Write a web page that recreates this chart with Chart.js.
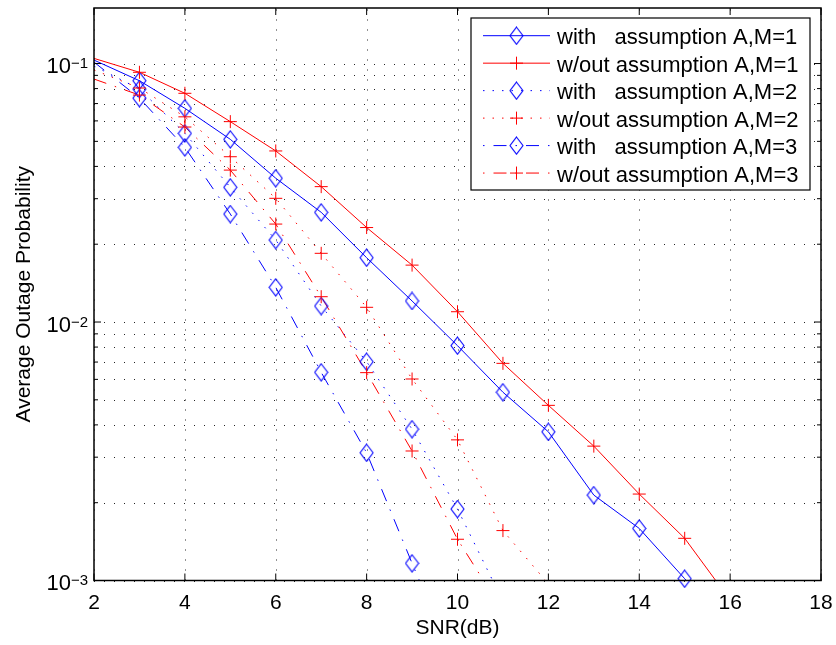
<!DOCTYPE html>
<html><head><meta charset="utf-8">
<script src="https://cdn.jsdelivr.net/npm/chart.js@4.4.1/dist/chart.umd.min.js"></script>
<style>html,body{margin:0;padding:0;background:#fff;}canvas{display:block;}</style>
</head><body>
<canvas id="c" width="836" height="645"></canvas>
<script>
// ---- data ----
const snr = [2,3,4,5,6,7,8,9,10,11,12,13,14,15,16];
const withM1    = [0.1031,0.0858,0.0671,0.0509,0.0360,0.02657,0.01773,0.01206,0.00810,0.00535,0.00376,0.00214,0.00159,0.001016,0.00065];
const withoutM1 = [0.1047,0.0925,0.0767,0.0596,0.0459,0.0334,0.0232,0.0166,0.01096,0.00692,0.00476,0.00331,0.00216,0.001456,0.00084];
const withM2    = [0.0978,0.0797,0.0537,0.0332,0.02076,0.01153,0.00702,0.00385,0.00189,0.00083];
const withoutM2 = [0.0944,0.0804,0.0622,0.0436,0.0301,0.01844,0.0114,0.00602,0.00350,0.00156,0.00097];
const withM3    = [0.1013,0.0735,0.0474,0.02617,0.01362,0.00639,0.00312,0.001166,0.00045];
const withoutM3 = [0.0871,0.0755,0.0568,0.0387,0.02393,0.01253,0.00637,0.00317,0.001444,0.00076];

const seriesLabels = ['with   assumption A,M=1','w/out assumption A,M=1','with   assumption A,M=2','w/out assumption A,M=2','with   assumption A,M=3','w/out assumption A,M=3'];
const xTicks = [2,4,6,8,10,12,14,16,18];
const yMajorTicks = [1e-3,1e-2,1e-1];
const yTickExp = ['\u22123','\u22122','\u22121'];
const xTitle = 'SNR(dB)';
const yTitle = 'Average Outage Probability';
const X_MIN = 2, X_MAX = 18, Y_MIN = 1e-3, Y_MAX = 0.164;

// ---- styles ----
const BLUE = '#0000ff', RED = '#ff0000';
const DOT = [1.5, 8];
const DASHDOT = [13, 9, 1.5, 9];
const FONT = '"Liberation Sans", Arial, Helvetica, sans-serif';

function makeDiamond(color){
  const cv = document.createElement('canvas');
  cv.width = 15; cv.height = 19;
  const g = cv.getContext('2d');
  g.strokeStyle = color; g.lineWidth = 1.1;
  g.beginPath();
  g.moveTo(7.5,1); g.lineTo(14,9.5); g.lineTo(7.5,18); g.lineTo(1,9.5); g.closePath();
  g.stroke();
  return cv;
}
const diamond = makeDiamond(BLUE);

const seriesDefs = [
  {vals: withM1,    color: BLUE, dash: [],      marker: 'd'},
  {vals: withoutM1, color: RED,  dash: [],      marker: '+'},
  {vals: withM2,    color: BLUE, dash: DOT,     marker: 'd'},
  {vals: withoutM2, color: RED,  dash: DOT,     marker: '+'},
  {vals: withM3,    color: BLUE, dash: DASHDOT, marker: 'd'},
  {vals: withoutM3, color: RED,  dash: DASHDOT, marker: '+'}
];

const datasets = [];
seriesDefs.forEach((s, i) => {
  const pts = s.vals.map((v, k) => ({x: snr[k], y: v}));
  datasets.push({
    label: seriesLabels[i], data: pts, borderColor: s.color, borderWidth: 1,
    borderDash: s.dash, borderCapStyle: 'butt', pointRadius: 0, fill: false, tension: 0,
    order: 20 - i
  });
  datasets.push({
    label: seriesLabels[i] + ' markers',
    data: pts.filter(p => p.x > X_MIN && p.y >= Y_MIN * 0.995),
    showLine: false, clip: false,
    pointStyle: s.marker === 'd' ? diamond : 'cross',
    pointRadius: 6.5, pointBorderColor: s.color, pointBackgroundColor: 'rgba(0,0,0,0)',
    pointBorderWidth: 1, order: 10 - i
  });
});

function yGridValues(){
  const out = [];
  for (let e = -3; e <= 0; e++) for (let m = 1; m <= 9; m++) {
    const v = m * Math.pow(10, e);
    if (v >= Y_MIN * 0.999 && v <= Y_MAX) out.push({v, major: m === 1});
  }
  return out;
}

const matlabPlugin = {
  id: 'matlab',
  beforeDraw(chart){
    const ctx = chart.ctx;
    ctx.save(); ctx.fillStyle = '#fff'; ctx.fillRect(0,0,chart.width,chart.height); ctx.restore();
  },
  beforeDatasetsDraw(chart){
    const {ctx, chartArea: a, scales: {x, y}} = chart;
    ctx.save();
    ctx.strokeStyle = 'rgba(0,0,0,0.85)'; ctx.lineWidth = 1; ctx.setLineDash([1, 9]);
    xTicks.forEach(t => {
      const px = Math.round(x.getPixelForValue(t)) + 0.5;
      ctx.beginPath(); ctx.moveTo(px, a.bottom); ctx.lineTo(px, a.top); ctx.stroke();
    });
    yGridValues().forEach(g => {
      const py = Math.round(y.getPixelForValue(g.v)) + 0.5;
      ctx.beginPath(); ctx.moveTo(a.left, py); ctx.lineTo(a.right, py); ctx.stroke();
    });
    ctx.restore();
  },
  afterDraw(chart){
    const {ctx, chartArea: a, scales: {x, y}} = chart;
    ctx.save();
    // axes box
    ctx.setLineDash([]);
    ctx.strokeStyle = '#000'; ctx.lineWidth = 1.5;
    ctx.strokeRect(a.left, a.top, a.right - a.left, a.bottom - a.top);
    // tick marks (inward)
    ctx.lineWidth = 1;
    xTicks.forEach(t => {
      const px = x.getPixelForValue(t);
      ctx.beginPath(); ctx.moveTo(px, a.bottom); ctx.lineTo(px, a.bottom - 7);
      ctx.moveTo(px, a.top); ctx.lineTo(px, a.top + 7); ctx.stroke();
    });
    yGridValues().forEach(g => {
      const py = y.getPixelForValue(g.v);
      const L = g.major ? 7 : 4;
      ctx.beginPath(); ctx.moveTo(a.left, py); ctx.lineTo(a.left + L, py);
      ctx.moveTo(a.right, py); ctx.lineTo(a.right - L, py); ctx.stroke();
    });
    // x tick labels
    ctx.fillStyle = '#000';
    ctx.font = '21px ' + FONT; ctx.textAlign = 'center'; ctx.textBaseline = 'alphabetic';
    xTicks.forEach(t => ctx.fillText(String(t), x.getPixelForValue(t), a.bottom + 28));
    // y tick labels 10^k
    yMajorTicks.forEach((t, i) => {
      const py = y.getPixelForValue(t);
      ctx.textAlign = 'right';
      ctx.font = '15px ' + FONT;
      const sx = a.left - 6;
      ctx.fillText(yTickExp[i], sx, py + 4.5);
      const w = ctx.measureText(yTickExp[i]).width;
      ctx.font = '22px ' + FONT;
      ctx.fillText('10', sx - w, py + 9.5);
    });
    // axis titles
    ctx.font = '21px ' + FONT; ctx.textAlign = 'center';
    ctx.fillText(xTitle, (a.left + a.right) / 2, 634);
    ctx.save();
    ctx.translate(30, (a.top + a.bottom) / 2);
    ctx.rotate(-Math.PI / 2);
    ctx.fillText(yTitle, 0, 0);
    ctx.restore();
    // legend
    const bx = 471, by = 18, bw = 339, bh = 172;
    ctx.fillStyle = '#fff'; ctx.fillRect(bx, by, bw, bh);
    ctx.strokeStyle = '#000'; ctx.lineWidth = 1.2; ctx.strokeRect(bx, by, bw, bh);
    seriesDefs.forEach((s, i) => {
      const ry = 35.7 + i * 27.47;
      ctx.save();
      ctx.strokeStyle = s.color; ctx.lineWidth = 1;
      ctx.setLineDash(s.dash);
      ctx.lineDashOffset = (s.dash === DASHDOT) ? 22 : 0;
      ctx.beginPath(); ctx.moveTo(483, ry); ctx.lineTo(550, ry); ctx.stroke();
      ctx.setLineDash([]);
      if (s.marker === 'd') {
        ctx.drawImage(diamond, 516.5 - diamond.width/2, ry - diamond.height/2);
      } else {
        ctx.beginPath(); ctx.moveTo(510, ry); ctx.lineTo(523, ry);
        ctx.moveTo(516.5, ry - 6.5); ctx.lineTo(516.5, ry + 6.5); ctx.stroke();
      }
      ctx.restore();
      ctx.fillStyle = '#000'; ctx.font = '22px ' + FONT; ctx.textAlign = 'left';
      ctx.fillText(seriesLabels[i], 557, ry + 8.6);
    });
    ctx.restore();
  }
};

new Chart(document.getElementById('c'), {
  type: 'line',
  data: {datasets},
  options: {
    responsive: false, devicePixelRatio: 1, animation: false, events: [],
    layout: {padding: {left: 94, top: 8, right: 15, bottom: 64.5}},
    plugins: {legend: {display: false}, tooltip: {enabled: false}},
    scales: {
      x: {type: 'linear', min: X_MIN, max: X_MAX, ticks: {display: false},
          grid: {display: false, drawTicks: false}, border: {display: false}},
      y: {type: 'logarithmic', min: Y_MIN, max: Y_MAX, ticks: {display: false},
          grid: {display: false, drawTicks: false}, border: {display: false}}
    }
  },
  plugins: [matlabPlugin]
});
</script>
</body></html>
